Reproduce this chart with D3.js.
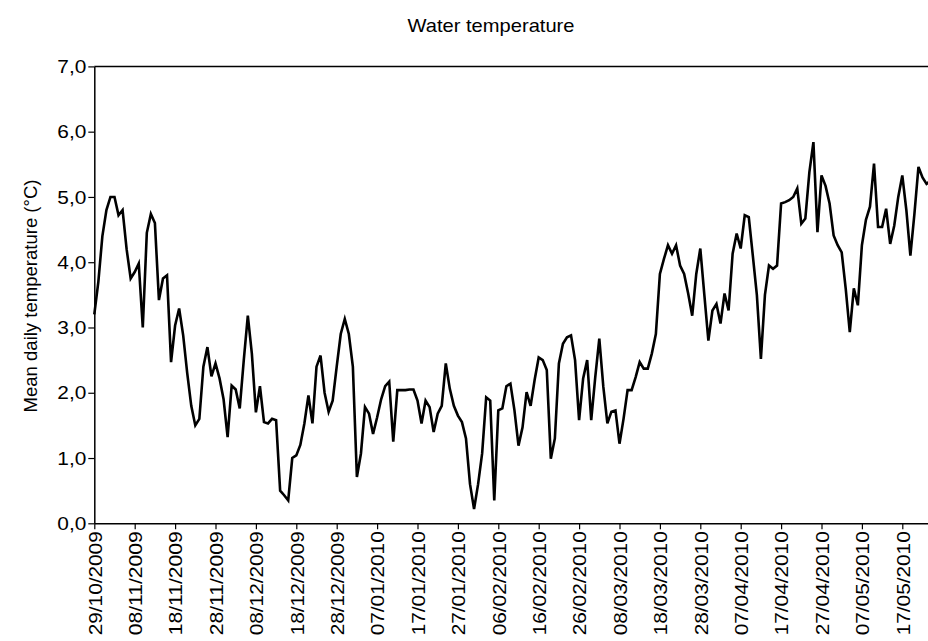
<!DOCTYPE html>
<html>
<head>
<meta charset="utf-8">
<script src="https://cdn.jsdelivr.net/npm/d3@7"></script>
<style>
  body { margin: 0; background: #fff; }
  text { font-family: "Liberation Sans", Arial, sans-serif; fill: #000; }
</style>
</head>
<body>
<div id="vis1"></div>
<script>
// First day of the daily series
const START_DATE = "29/10/2009";

// Mean daily water temperature (°C), one value per day from START_DATE
const TEMPS = [
  3.2, 3.7, 4.4, 4.8, 5.0, 5.0, 4.72, 4.8, 4.2, 3.75,
  3.85, 3.98, 3.0, 4.45, 4.74, 4.6, 3.42, 3.75, 3.8, 2.47,
  3.03, 3.29, 2.88, 2.3, 1.8, 1.5, 1.6, 2.4, 2.7, 2.25,
  2.45, 2.22, 1.9, 1.32, 2.11, 2.05, 1.76, 2.5, 3.18, 2.6,
  1.7, 2.1, 1.55, 1.53, 1.6, 1.58, 0.5, 0.43, 0.35, 1.0,
  1.04, 1.2, 1.53, 1.96, 1.53, 2.4, 2.57, 2.0, 1.71, 1.88,
  2.4, 2.9, 3.13, 2.9, 2.4, 0.71, 1.07, 1.78, 1.68, 1.37,
  1.62, 1.9, 2.1, 2.17, 1.25, 2.04, 2.04, 2.04, 2.05, 2.05,
  1.88, 1.53, 1.88, 1.78, 1.4, 1.68, 1.8, 2.45, 2.06, 1.8,
  1.65, 1.55, 1.3, 0.6, 0.22, 0.6, 1.07, 1.93, 1.88, 0.35,
  1.73, 1.76, 2.1, 2.14, 1.73, 1.19, 1.47, 2.01, 1.8, 2.2,
  2.54, 2.5, 2.35, 0.99, 1.3, 2.45, 2.75, 2.85, 2.88, 2.5,
  1.58, 2.22, 2.5, 1.58, 2.24, 2.83, 2.09, 1.53, 1.71, 1.73,
  1.22, 1.6, 2.04, 2.04, 2.24, 2.47, 2.37, 2.37, 2.6, 2.9,
  3.82, 4.05, 4.26, 4.13, 4.26, 3.95, 3.82, 3.52, 3.18, 3.82,
  4.21, 3.5, 2.8, 3.26, 3.36, 3.06, 3.52, 3.26, 4.13, 4.44,
  4.21, 4.72, 4.69, 4.1, 3.5, 2.52, 3.5, 3.95, 3.9, 3.95,
  4.9, 4.92, 4.95, 5.0, 5.13, 4.59, 4.67, 5.38, 5.84, 4.46,
  5.33, 5.17, 4.9, 4.41, 4.26, 4.15, 3.59, 2.93, 3.6, 3.34,
  4.26, 4.65, 4.85, 5.51, 4.54, 4.54, 4.82, 4.28, 4.56, 5.0,
  5.33, 4.8, 4.1, 4.74, 5.46, 5.3, 5.2, 5.25
];

// Category axis tick labels (every 10 days)
const X_TICKS = [
  "29/10/2009", "08/11/2009", "18/11/2009", "28/11/2009", "08/12/2009",
  "18/12/2009", "28/12/2009", "07/01/2010", "17/01/2010", "27/01/2010",
  "06/02/2010", "16/02/2010", "26/02/2010", "08/03/2010", "18/03/2010",
  "28/03/2010", "07/04/2010", "17/04/2010", "27/04/2010", "07/05/2010",
  "17/05/2010"
];

// Value axis ticks
const Y_TICKS = [0, 1, 2, 3, 4, 5, 6, 7];

const TITLE = "Water temperature";
const Y_TITLE = "Mean daily temperature (°C)";

// Frame
const FRAME_WIDTH = 928;
const FRAME_HEIGHT = 641;
const PLOT = {left: 94.3, top: 66.4, bottom: 523.3, pxPerDay: 4.04, days: 208};

const FRAME1 = d3.select("#vis1")
                 .append("svg")
                 .attr("width", FRAME_WIDTH)
                 .attr("height", FRAME_HEIGHT)
                 .style("display", "block");

const parse = d3.utcParse("%d/%m/%Y");
const start = parse(START_DATE);

const data = TEMPS.map((v, i) => ({date: d3.utcDay.offset(start, i), value: v}));

// Scales
const X_SCALE = d3.scaleUtc()
                  .domain([start, d3.utcDay.offset(start, PLOT.days)])
                  .range([PLOT.left, PLOT.left + PLOT.days * PLOT.pxPerDay]);

const Y_SCALE = d3.scaleLinear()
                  .domain([0, 7])
                  .range([PLOT.bottom, PLOT.top]);

// Top border of the plot area
FRAME1.append("line")
      .attr("x1", PLOT.left)
      .attr("x2", FRAME_WIDTH)
      .attr("y1", Y_SCALE(7))
      .attr("y2", Y_SCALE(7))
      .attr("stroke", "#000")
      .attr("stroke-width", 1.5);

// Y axis
const yAxis = FRAME1.append("g")
      .attr("transform", "translate(" + PLOT.left + ",0)")
      .call(d3.axisLeft(Y_SCALE)
              .tickValues(Y_TICKS)
              .tickSize(6)
              .tickSizeOuter(0)
              .tickPadding(2)
              .tickFormat(d => d3.format(".1f")(d).replace(".", ",")));
yAxis.select(".domain").attr("stroke", "#000").attr("stroke-width", 1.5);
yAxis.selectAll(".tick line").attr("stroke", "#000").attr("stroke-width", 1.2);
yAxis.selectAll(".tick text")
     .attr("font-size", 19)
     .attr("textLength", 29)
     .attr("lengthAdjust", "spacingAndGlyphs");

// X axis
const xAxis = FRAME1.append("g")
      .attr("transform", "translate(0," + PLOT.bottom + ")")
      .call(d3.axisBottom(X_SCALE)
              .tickValues(X_TICKS.map(parse))
              .tickSize(6)
              .tickSizeOuter(0)
              .tickFormat(d3.utcFormat("%d/%m/%Y")));
xAxis.select(".domain").attr("stroke", "#000").attr("stroke-width", 1.5);
xAxis.selectAll(".tick line").attr("stroke", "#000").attr("stroke-width", 1.2);
xAxis.selectAll(".tick text")
     .attr("font-size", 19)
     .attr("transform", "rotate(-90)")
     .attr("x", -8)
     .attr("y", 0)
     .attr("dy", "0.36em")
     .attr("text-anchor", "end")
     .attr("textLength", 104)
     .attr("lengthAdjust", "spacingAndGlyphs");

// Temperature line
FRAME1.append("path")
      .datum(data)
      .attr("fill", "none")
      .attr("stroke", "#000")
      .attr("stroke-width", 2.6)
      .attr("stroke-linejoin", "miter")
      .attr("d", d3.line()
                   .x(d => X_SCALE(d.date))
                   .y(d => Y_SCALE(d.value)));

// Title
FRAME1.append("text")
      .attr("x", 491)
      .attr("y", 32)
      .attr("text-anchor", "middle")
      .attr("font-size", 19)
      .attr("textLength", 167)
      .attr("lengthAdjust", "spacingAndGlyphs")
      .text(TITLE);

// Y axis title
FRAME1.append("text")
      .attr("transform", "translate(37,296) rotate(-90)")
      .attr("text-anchor", "middle")
      .attr("font-size", 18)
      .attr("textLength", 233)
      .attr("lengthAdjust", "spacingAndGlyphs")
      .text(Y_TITLE);
</script>
</body>
</html>
